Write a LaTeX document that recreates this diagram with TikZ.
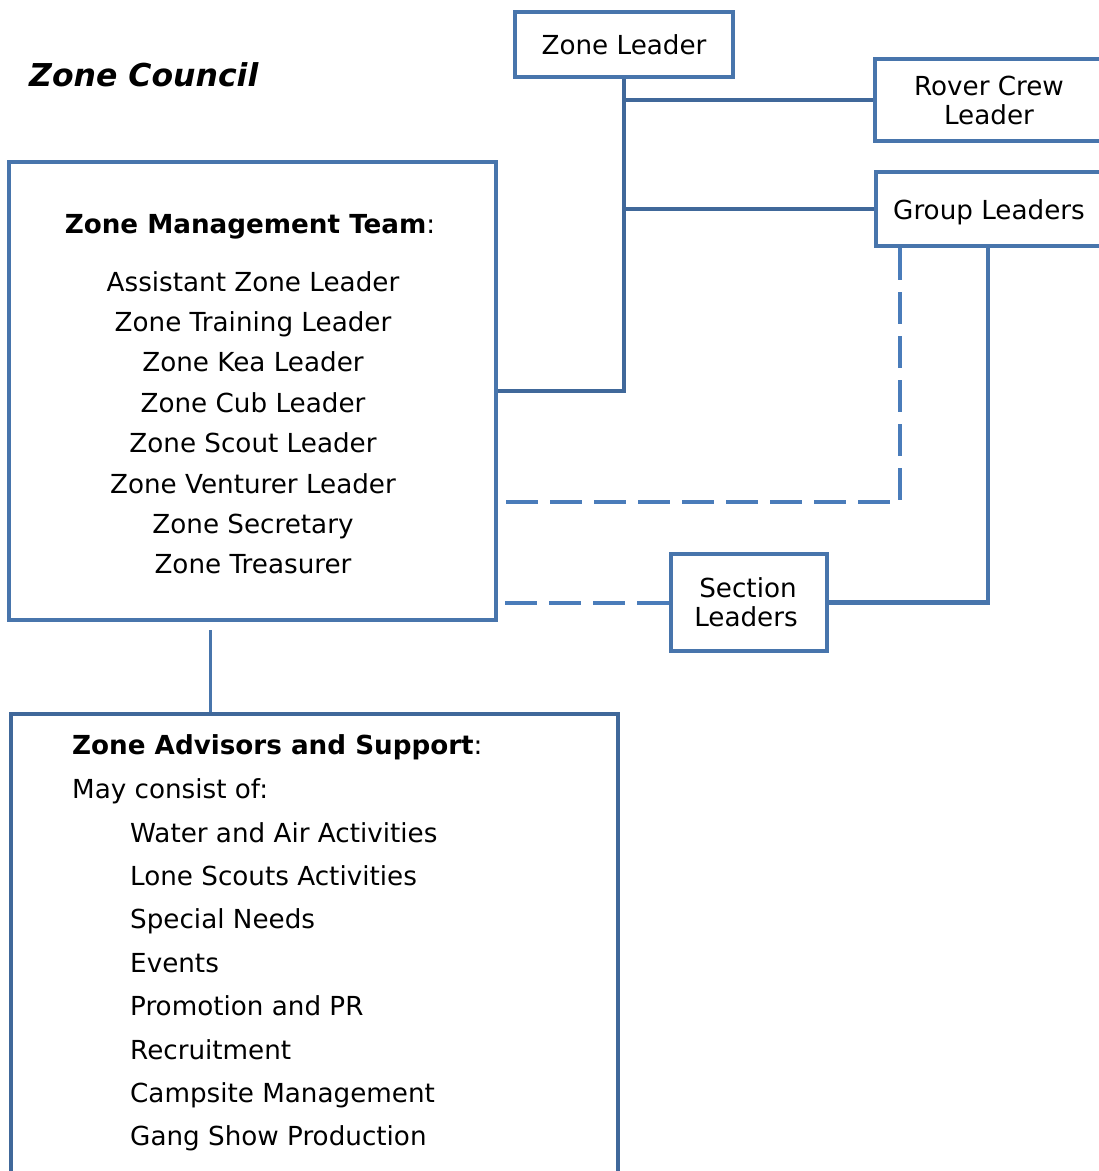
\documentclass[tikz,border=0pt]{standalone}
\usepackage{fontspec}
\setmainfont{DejaVu Sans}
\usetikzlibrary{calc}
\definecolor{boxcol}{RGB}{72,117,172}
\definecolor{darkcol}{RGB}{64,104,154}
\definecolor{dashcol}{RGB}{74,124,186}
\tikzset{
  box/.style={draw=boxcol, line width=4.5pt, rectangle, inner sep=0pt, fill=white},
  darkbox/.style={box, draw=darkcol},
  conn/.style={draw=boxcol, line width=4.5pt},
  darkconn/.style={draw=darkcol, line width=4.5pt},
  thinconn/.style={draw=boxcol, line width=3pt},
  dashconn/.style={draw=dashcol, line width=4pt, dash pattern=on 32pt off 12pt},
  txt/.style={inner sep=0pt, font=\fontsize{26.2}{31}\selectfont, text=black},
  btxt/.style={txt, font=\fontsize{26}{31}\selectfont\bfseries}
}
\begin{document}
\begin{tikzpicture}[x=1pt,y=-1pt]
\path[use as bounding box] (0,0) rectangle (1099,1171);
\clip (0,0) rectangle (1099,1171);
\fill[white] (0,0) rectangle (1099,1171);

% boxes
\node[box, minimum width=218pt, minimum height=65pt] (zl) at (624,44.5) {};
\node[box, minimum width=255pt, minimum height=82pt] (rover) at (1002.5,100) {};
\node[box, minimum width=254pt, minimum height=74pt] (gl) at (1003,209) {};
\node[box, minimum width=487pt, minimum height=458pt] (zmt) at (252.5,391) {};
\node[box, minimum width=156pt, minimum height=97pt] (sl) at (749,602.5) {};
\node[darkbox, minimum width=607pt, minimum height=486pt] (zas) at (314.5,957) {};

% connectors
\draw[darkconn] (zl.south) -- (zl.south |- zmt.east) -- (zmt.east);
\draw[darkconn] (zl.south |- rover.west) -- (rover.west);
\draw[darkconn] (zl.south |- gl.west) -- (gl.west);
\coordinate (gldash) at ([xshift=26pt]gl.south west);
\coordinate (zmtdash) at ([yshift=-111pt]zmt.east);
\draw[dashconn] (gldash) |- (zmtdash);
\coordinate (glsolid) at ([xshift=114pt]gl.south west);
\draw[conn] (glsolid) |- (sl.east);
\draw[dashconn] (sl.west) -- (zmt.east |- sl.west);
\coordinate (zastop) at ([xshift=202pt]zas.north west);
\coordinate (zmtgap) at ([yshift=-8pt]zmt.south);
\draw[thinconn] (zastop) -- (zastop |- zmtgap);

% texts
\node[inner sep=0pt, anchor=base west, font=\fontsize{31.5}{36}\selectfont\bfseries\itshape] (title) at (29,86) {Zone Council};
\node[txt, anchor=base] (zlt) at (624,54) {Zone Leader};
\node[txt, anchor=base] (rt1) at (989,95) {Rover Crew};
\node[txt, anchor=base] (rt2) at (989,124) {Leader};
\node[txt, anchor=base] (glt) at (989,219) {Group Leaders};
\node[txt, anchor=base] (slt1) at (748,597) {Section};
\node[txt, anchor=base] (slt2) at (746,626) {Leaders};

\node[txt, anchor=base] (zmth) at (250,233) {\textbf{Zone Management Team}:};
\foreach \t [count=\i] in {Assistant Zone Leader, Zone Training Leader, Zone Kea Leader, Zone Cub Leader, Zone Scout Leader, Zone Venturer Leader, Zone Secretary, Zone Treasurer}{
  \node[txt, anchor=base] (zmt\i) at (253, {291+40.4*(\i-1)}) {\t};
}

\node[txt, anchor=base west] (zash) at (72,754) {\textbf{Zone Advisors and Support}:};
\node[txt, anchor=base west] (zasm) at (72,798) {May consist of:};
\foreach \t [count=\i] in {Water and Air Activities, Lone Scouts Activities, Special Needs, Events, Promotion and PR, Recruitment, Campsite Management, Gang Show Production}{
  \node[txt, anchor=base west] (zas\i) at (130, {842+43.4*(\i-1)}) {\t};
}
\end{tikzpicture}
\end{document}
